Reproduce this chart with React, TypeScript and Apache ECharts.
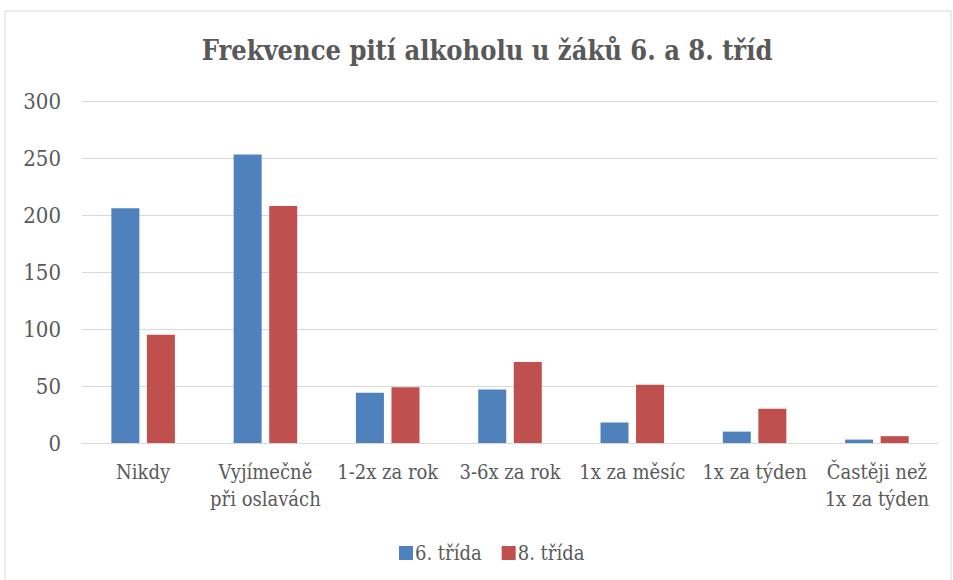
import React, { useEffect, useRef } from "react";
import * as echarts from "echarts";

const categories = [
  "Nikdy",
  "Vyjímečně\npři oslavách",
  "1-2x za rok",
  "3-6x za rok",
  "1x za měsíc",
  "1x za týden",
  "Častěji než\n1x za týden",
];
const seriesNames = ["6. třída", "8. třída"];
const grade6 = [206, 253, 44, 47, 18, 10, 3];
const grade8 = [95, 208, 49, 71, 51, 30, 6];
const yTicks = { min: 0, max: 300, interval: 50 };

const FONT = "DejaVu Serif Condensed";
const TEXT = "#595959";

export default function App() {
  const ref = useRef<HTMLDivElement>(null);
  useEffect(() => {
    if (!ref.current) return;
    const chart = echarts.init(ref.current, null, { renderer: "svg" });
    chart.setOption({
      animation: false,
      backgroundColor: "#ffffff",
      textStyle: { fontFamily: FONT },
      title: {
        text: "Frekvence pití alkoholu u žáků 6. a 8. tříd",
        left: 482,
        textAlign: "center",
        top: 32,
        textStyle: { fontFamily: FONT, fontSize: 27, fontWeight: "bold", color: TEXT },
      },
      graphic: [
        {
          type: "rect",
          shape: { x: 5, y: 11, width: 946, height: 580 },
          style: { fill: "none", stroke: "#d9d9d9", lineWidth: 1 },
          silent: true,
        },
      ],
      legend: {
        data: seriesNames,
        left: 394,
        top: 538,
        itemWidth: 14,
        itemHeight: 14,
        itemGap: 20,
        icon: "rect",
        textStyle: { fontFamily: FONT, fontSize: 20, color: TEXT, padding: [0, 0, 0, -3] },
      },
      grid: { left: 82, right: 15, top: 101, bottom: 137, containLabel: false },
      xAxis: {
        type: "category",
        data: categories,
        axisLine: { lineStyle: { color: "#d9d9d9", width: 1 } },
        axisTick: { show: false },
        axisLabel: {
          fontFamily: FONT,
          fontSize: 20,
          color: TEXT,
          margin: 15,
          lineHeight: 27,
          interval: 0,
        },
      },
      yAxis: {
        type: "value",
        min: yTicks.min,
        max: yTicks.max,
        interval: yTicks.interval,
        axisLine: { show: false },
        axisTick: { show: false },
        splitLine: { lineStyle: { color: "#d9d9d9", width: 1 } },
        axisLabel: { fontFamily: FONT, fontSize: 22, color: TEXT, margin: 21 },
      },
      series: [
        {
          name: seriesNames[0],
          type: "bar",
          data: grade6,
          barWidth: 28,
          barGap: "27%",
          itemStyle: { color: "#4F81BD" },
        },
        {
          name: seriesNames[1],
          type: "bar",
          data: grade8,
          barWidth: 28,
          barGap: "27%",
          itemStyle: { color: "#C0504D" },
        },
      ],
    });
    return () => chart.dispose();
  }, []);
  return (
    <div
      ref={ref}
      style={{ position: "fixed", left: 0, top: 0, width: 953, height: 580 }}
    />
  );
}
